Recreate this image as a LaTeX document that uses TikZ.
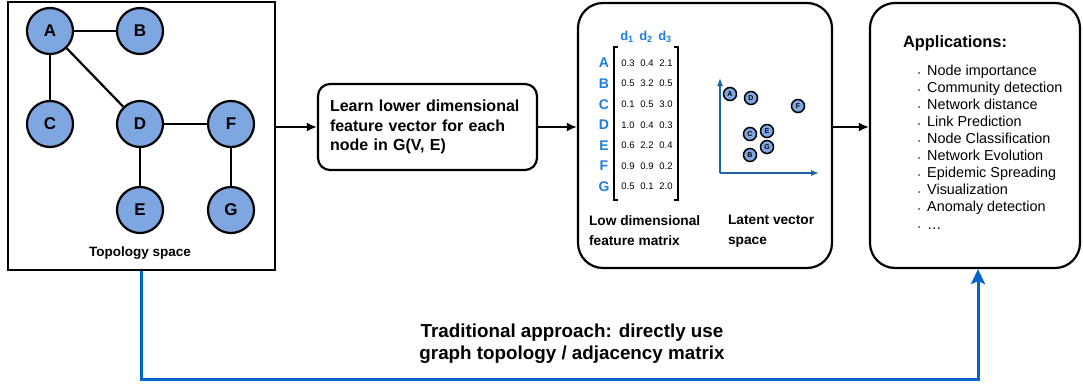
\documentclass[tikz,border=0pt]{standalone}
\usepackage{fontspec}
\setmainfont{Liberation Sans}
\usetikzlibrary{positioning,arrows.meta}
\definecolor{nodeblue}{HTML}{7EA6E0}
\definecolor{labelblue}{HTML}{1E7FE0}
\definecolor{axisblue}{HTML}{2060A8}
\definecolor{pathblue}{HTML}{0066CC}

\begin{document}
\begin{tikzpicture}[x=1pt, y=-1pt, >={Latex[length=10pt,width=9pt]}, line width=2.2pt,
  vert/.style={circle, draw, fill=nodeblue, minimum size=46pt, inner sep=0pt,
    font=\fontsize{17}{17}\selectfont\bfseries},
  dot/.style={circle, draw, fill=nodeblue, line width=1.5pt, minimum size=13pt,
    inner sep=0pt, font=\fontsize{7}{7}\selectfont\bfseries},
  panel/.style={draw, rounded corners=25pt, line width=2.2pt},
  caption/.style={font=\fontsize{13.7}{20}\selectfont\bfseries, align=left, anchor=north west, inner sep=0pt},
  entry/.style={font=\fontsize{9.5}{9.5}\selectfont, inner sep=0pt},
  rowlabel/.style={font=\fontsize{14}{14}\selectfont\bfseries, text=labelblue, inner sep=0pt},
  item/.style={font=\fontsize{14.4}{14.4}\selectfont, anchor=base west, inner sep=0pt}]
  \useasboundingbox (0,0) rectangle (1083,383);
  \def\rowh{20.6}
  \def\bul{{\fontsize{6}{6}\selectfont\textbullet}\hspace{7pt}}

  % --- Topology space ---
  \node[draw, line width=2.2pt, minimum width=267pt, minimum height=268pt] (topo) at (141.5,136) {};
  \node[vert] (A) at (50,31) {A};
  \node[vert] (B) at (140,31) {B};
  \node[vert] (C) at (50,124) {C};
  \node[vert] (D) at (140,124) {D};
  \node[vert] (F) at (231,124) {F};
  \node[vert] (E) at (140,210) {E};
  \node[vert] (G) at (231,210) {G};
  \draw (A) -- (B);
  \draw (A) -- (C);
  \draw (A) -- (D);
  \draw (D) -- (F);
  \draw (D) -- (E);
  \draw (F) -- (G);
  \node[font=\fontsize{13.5}{13.5}\selectfont\bfseries] (topolabel) at (140,253) {Topology space};

  % --- Learning step ---
  \node[panel, rounded corners=12pt, text width=195pt, inner sep=12pt, minimum height=86pt,
    align=left, font=\fontsize{16}{19.5}\selectfont\bfseries] (learn) at (427.5,127)
    {Learn lower dimensional feature vector for each node in G(V, E)};

  % --- Feature matrix and latent space ---
  \node[panel, minimum width=254pt, minimum height=265pt] (embed) at (705,135.5) {};
  \foreach \c/\x in {1/627,2/646,3/665}
    \node[font=\fontsize{13}{13}\selectfont\bfseries, text=labelblue] (d\c) at (\x,37) {d\textsubscript{\c}};
  \foreach \r/\a/\b/\cc [count=\i from 0] in {A/0.3/0.4/2.1, B/0.5/3.2/0.5, C/0.1/0.5/3.0,
      D/1.0/0.4/0.3, E/0.6/2.2/0.4, F/0.9/0.9/0.2, G/0.5/0.1/2.0} {
    \node[rowlabel] (row\r) at (604,63+\i*\rowh) {\r};
    \node[entry] (v\r1) at (628,63+\i*\rowh) {\a};
    \node[entry] (v\r2) at (647,63+\i*\rowh) {\b};
    \node[entry] (v\r3) at (666,63+\i*\rowh) {\cc};
  }
  % brackets
  \draw[line width=1.3pt] (618,47) -- (614,47) -- (614,200) -- (618,200);
  \draw[line width=1.3pt] (674,47) -- (678,47) -- (678,200) -- (674,200);
  \node[caption] (matlabel) at (588,214) {Low dimensional\\feature matrix};

  % latent axes
  \coordinate (origin) at (720,173);
  \coordinate (ytip) at (720,78);
  \coordinate (xtip) at (819,173);
  \draw[-{Latex[length=8pt,width=6pt]}, axisblue, line width=1.3pt] (origin) -- (ytip);
  \draw[-{Latex[length=8pt,width=6pt]}, axisblue, line width=1.3pt] (origin) -- (xtip);
  \node[dot] (pA) at (730,94) {A};
  \node[dot] (pD) at (751,98) {D};
  \node[dot] (pF) at (798,106) {F};
  \node[dot] (pC) at (750,134) {C};
  \node[dot] (pE) at (767,131) {E};
  \node[dot] (pG) at (767,147) {G};
  \node[dot] (pB) at (750,155) {B};
  \node[caption] (latlabel) at (727,214) {Latent vector\\space};

  % --- Applications ---
  \node[panel, minimum width=210pt, minimum height=265pt] (apps) at (975,135.5) {};
  \node[font=\fontsize{16.4}{16.4}\selectfont\bfseries, anchor=base west, inner sep=0pt] (apptitle) at (902,47) {Applications:};
  \foreach \t [count=\i from 0] in {Node importance, Community detection, Network distance,
      Link Prediction, Node Classification, Network Evolution, Epidemic Spreading,
      Visualization, Anomaly detection}
    \node[item] (app\i) at (917,75+\i*17.1) {\bul\t};
  \node[item] (appmore) at (917,229) {\bul\ldots};

  % --- Pipeline arrows ---
  \draw[->] (topo.east |- learn.west) -- (learn.west);
  \draw[->] (learn.east) -- (embed.west |- learn.east);
  \draw[->] (embed.east |- learn.east) -- (apps.west |- learn.east);

  % --- Traditional shortcut ---
  \draw[-{Stealth[length=15pt,width=14pt,inset=3pt]}, pathblue, line width=3pt]
    (topo.south) -- ++(0,108) -| ([xshift=3pt]apps.south);
  \node[font=\fontsize{18.8}{22}\selectfont\bfseries, align=center] (trad) at (572,344)
    {Traditional approach: directly use\\graph topology / adjacency matrix};
\end{tikzpicture}
\end{document}
